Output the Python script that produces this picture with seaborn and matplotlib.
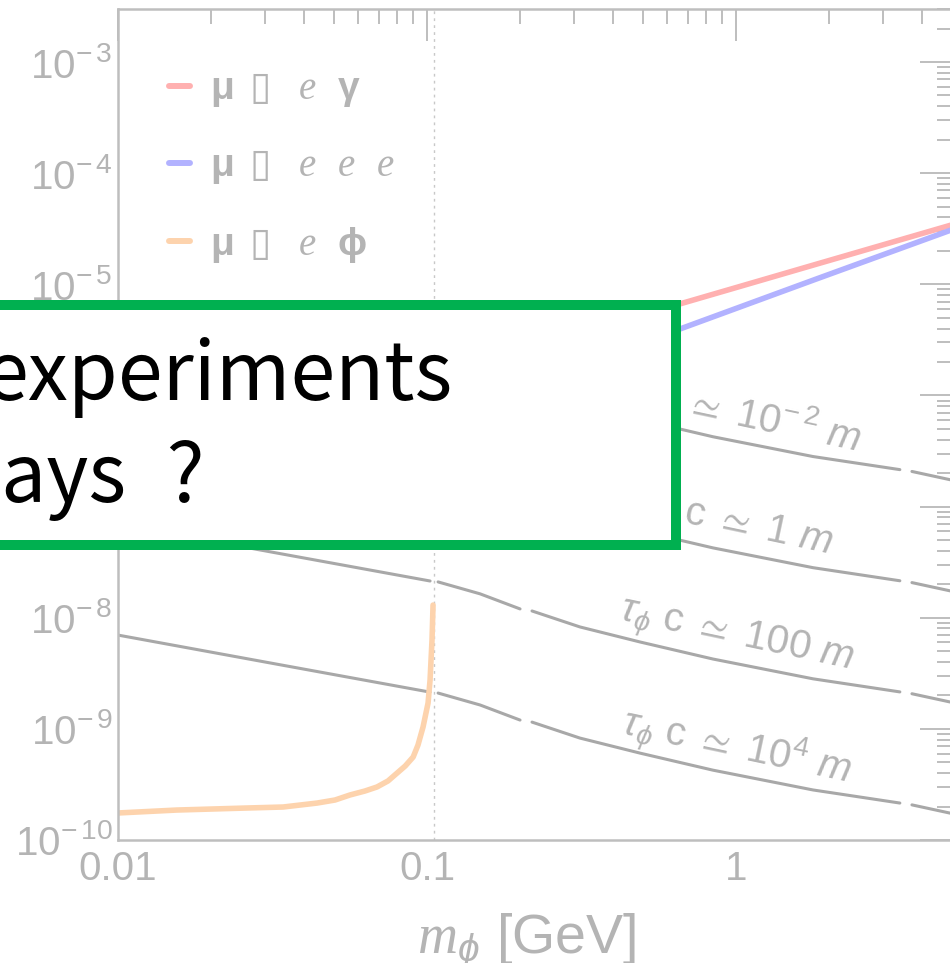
import numpy as np
import pandas as pd
import matplotlib
matplotlib.use("Agg")
import matplotlib.pyplot as plt
import seaborn as sns
from matplotlib.patches import Rectangle
from matplotlib.ticker import LogLocator, FixedLocator, FixedFormatter, NullFormatter

# ---------------- data ----------------
# mu -> e gamma  (red)
meg_x = [0.11, 0.668, 1.81, 5.0]
meg_y = [1.57e-6, 6.74e-6, 1.51e-5, 3.43e-5]
# mu -> e e e  (blue)
meee_x = [0.11, 0.668, 1.81, 5.0]
meee_y = [6.4e-7, 4.02e-6, 1.11e-5, 3.1e-5]
# mu -> e phi  (orange)
mephi_x = [0.01, 0.0155, 0.0261, 0.0342, 0.0441, 0.0504, 0.0563, 0.0630, 0.0689,
           0.0748, 0.080, 0.0850, 0.0902, 0.0935, 0.0971, 0.1008, 0.1023, 0.1038, 0.1046]
mephi_y = [1.75e-10, 1.86e-10, 1.94e-10, 1.98e-10, 2.15e-10, 2.29e-10, 2.54e-10, 2.76e-10,
           3.0e-10, 3.40e-10, 4.0e-10, 4.63e-10, 5.58e-10, 7.15e-10, 1.04e-9, 1.71e-9,
           2.75e-9, 6.29e-9, 1.30e-8]

# lifetime contours: x positions of the four segments (gaps at thresholds)
life_x_seg1 = [0.01, 0.032, 0.1023]
life_x_seg2 = [0.1086, 0.1485, 0.200]
life_x_seg3 = [0.2187, 0.3126, 0.489, 0.842, 1.775, 3.39]
life_x_seg4 = [3.71, 5.0]
life_y_1em2 = [6.98e-6, 3.86e-6, 2.14e-6, 2.10e-6, 1.64e-6, 1.20e-6, 1.15e-6,
               8.26e-7, 6.05e-7, 4.25e-7, 2.82e-7, 2.15e-7, 2.07e-7, 1.73e-7]
life_y_1 = [6.98e-7, 3.86e-7, 2.14e-7, 2.10e-7, 1.64e-7, 1.20e-7, 1.15e-7,
            8.26e-8, 6.05e-8, 4.25e-8, 2.82e-8, 2.15e-8, 2.07e-8, 1.73e-8]
life_y_100 = [6.98e-8, 3.86e-8, 2.14e-8, 2.10e-8, 1.64e-8, 1.20e-8, 1.15e-8,
              8.26e-9, 6.05e-9, 4.25e-9, 2.82e-9, 2.15e-9, 2.07e-9, 1.73e-9]
life_y_1e4 = [6.98e-9, 3.86e-9, 2.14e-9, 2.10e-9, 1.64e-9, 1.20e-9, 1.15e-9,
              8.26e-10, 6.05e-10, 4.25e-10, 2.82e-10, 2.15e-10, 2.07e-10, 1.73e-10]
life_names = [r"10^{-\,2}", "1", "100", r"10^{4}"]
life_label_y = [6.7e-7, 6.7e-8, 6.7e-9, 6.7e-10]
life_label_x = 1.0

m_mu = 0.105

xticks = [0.01, 0.1, 1]
xtick_labels = ["0.01", "0.1", "1"]
yticks = [1e-10, 1e-9, 1e-8, 1e-7, 1e-6, 1e-5, 1e-4, 1e-3]
ytick_labels = [r"$10^{-\,%d}$" % k for k in [10, 9, 8, 7, 6, 5, 4, 3]]

legend_labels = [r"$\mathbf{\mu}\,$ $\mathsf{▯}\,$  $\mathcal{e}$  $\mathbf{\gamma}$",
                 r"$\mathbf{\mu}\,$ $\mathsf{▯}\,$  $\mathcal{e}$  $\mathcal{e}$  $\mathcal{e}$",
                 r"$\mathbf{\mu}\,$ $\mathsf{▯}\,$  $\mathcal{e}$  $\mathbf{\phi}$"]

# ---------------- style ----------------
sns.set_theme(style="white")
plt.rcParams["font.family"] = ["Liberation Sans", "DejaVu Sans"]
plt.rcParams["mathtext.fontset"] = "custom"
plt.rcParams["mathtext.rm"] = "Liberation Sans"
plt.rcParams["mathtext.it"] = "Liberation Sans:italic"
plt.rcParams["mathtext.bf"] = "Liberation Sans:bold"
plt.rcParams["mathtext.cal"] = "Liberation Serif:italic"
plt.rcParams["mathtext.sf"] = "DejaVu Sans"
plt.rcParams["mathtext.fallback"] = "stix"

GRAY_TXT = "#b4b4b4"
GRAY_AX = "#bebebe"
GRAY_LN = "#a8a8a8"
RED = "#ffb0b0"
BLUE = "#b2b2ff"
ORANGE = "#fdd3ad"

fig = plt.figure(figsize=(9.5, 9.63), dpi=100)
ax = fig.add_axes([0.12421, 0.12773, 0.87789, 0.86293])
ax.set_xscale("log")
ax.set_yscale("log")

# lifetime contours
seg_xs = [life_x_seg1, life_x_seg2, life_x_seg3, life_x_seg4]
rows = []
for name, ys in zip(life_names, [life_y_1em2, life_y_1, life_y_100, life_y_1e4]):
    i = 0
    for s, xs in enumerate(seg_xs):
        for xv in xs:
            rows.append({"x": xv, "y": ys[i], "unit": f"{name}-{s}"})
            i += 1
life_df = pd.DataFrame(rows)
sns.lineplot(data=life_df, x="x", y="y", units="unit", estimator=None,
             color=GRAY_LN, lw=2.2, legend=False, ax=ax, sort=False)

ax.axvline(m_mu, color="#c8c8c8", lw=1.0, ls=(0, (2, 3)), zorder=1)

sns.lineplot(x=meg_x, y=meg_y, color=RED, lw=4.0, label=legend_labels[0], ax=ax)
sns.lineplot(x=meee_x, y=meee_y, color=BLUE, lw=4.0, label=legend_labels[1], ax=ax)
sns.lineplot(x=mephi_x, y=mephi_y, color=ORANGE, lw=4.0, label=legend_labels[2], ax=ax)

for name, ly in zip(life_names, life_label_y):
    ax.text(life_label_x, ly, r"$\tau_{\phi}$ c $\simeq$ $\mathit{%s\ m}$" % name,
            rotation=-12, rotation_mode="anchor", ha="center", va="center",
            fontsize=29, color=GRAY_TXT, zorder=3)

ax.set_xlim(0.01, 5.0)
ax.set_ylim(1e-10, 3.0e-3)

ax.xaxis.set_major_locator(FixedLocator(xticks))
ax.xaxis.set_major_formatter(FixedFormatter(xtick_labels))
ax.xaxis.set_minor_locator(LogLocator(base=10, subs=np.arange(2, 10), numticks=100))
ax.xaxis.set_minor_formatter(NullFormatter())
ax.yaxis.set_major_locator(FixedLocator(yticks))
ax.yaxis.set_major_formatter(FixedFormatter(ytick_labels))
ax.yaxis.set_minor_locator(LogLocator(base=10, subs=np.arange(2, 10), numticks=100))
ax.yaxis.set_minor_formatter(NullFormatter())

ax.tick_params(which="both", direction="in", top=True, right=True,
               color=GRAY_AX, labelcolor=GRAY_TXT, width=1.4)
ax.tick_params(which="major", length=23, labelsize=29)
ax.tick_params(axis="y", which="major", pad=4)
ax.tick_params(axis="x", which="major", pad=7)
ax.tick_params(which="minor", length=11)
for sp in ax.spines.values():
    sp.set_color(GRAY_AX)
    sp.set_linewidth(1.8)
ax.set_ylabel("")
ax.set_xlabel(r"$\mathcal{m}_{\phi}$ [GeV]", fontsize=40, color=GRAY_TXT)
ax.xaxis.set_label_coords(0.49, -0.086)

leg = ax.legend(loc="upper left", bbox_to_anchor=(0.061, 0.925), frameon=False,
                fontsize=28, handlelength=0.55, handletextpad=0.52,
                labelspacing=1.0, borderpad=0, borderaxespad=0,
                labelcolor=GRAY_TXT)
for h in leg.get_lines():
    h.set_linewidth(4.3)

# overlay box
box = Rectangle((-0.1, 0.434), 0.1 + 676 / 950, 0.6833 - 0.434,
                transform=fig.transFigure, facecolor="white",
                edgecolor="#00b050", linewidth=7.2, zorder=10)
fig.add_artist(box)
fig.text(453 / 950, 1 - 400 / 963, "experiments", ha="right", va="baseline",
         fontsize=58, color="black", family=["Noto Sans CJK JP", "DejaVu Sans"], zorder=11)
fig.text(1 / 950, 1 - 502 / 963, "ays\u2002?", ha="left", va="baseline",
         fontsize=58, color="black", family=["Noto Sans CJK JP", "DejaVu Sans"], zorder=11)

fig.savefig("out.png", dpi=100)
